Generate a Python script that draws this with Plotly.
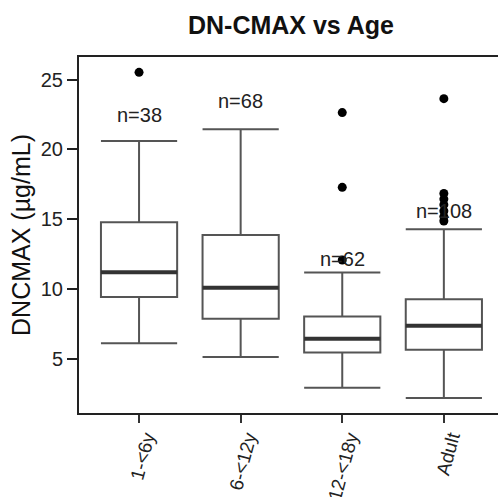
import plotly.graph_objects as go

categories = ["1-<6y", "6-<12y", "12-<18y", "Adult"]
positions = [1, 2, 3, 4]
lower_whisker = [6.14, 5.14, 2.95, 2.21]
q1 = [9.45, 7.88, 5.47, 5.66]
median = [11.21, 10.11, 6.45, 7.38]
q3 = [14.79, 13.88, 8.04, 9.29]
upper_whisker = [20.61, 21.45, 11.19, 14.29]

outlier_x = [1, 3, 3, 3, 4, 4, 4, 4, 4, 4, 4]
outlier_y = [25.52, 22.64, 17.29, 12.09, 23.64, 16.85, 16.45, 16.05, 15.6, 15.2, 14.88]

n_labels = ["n=38", "n=68", "n=62", "n=108"]
n_label_y = [22.5, 23.5, 12.14, 15.6]

box_width = 0.75

fig = go.Figure()
fig.add_trace(go.Box(
    x=positions, q1=q1, median=median, q3=q3,
    lowerfence=lower_whisker, upperfence=upper_whisker,
    width=box_width, whiskerwidth=1,
    fillcolor="white", line=dict(color="#555555", width=2),
    boxpoints=False, showlegend=False, hoverinfo="skip",
))

mx, my = [], []
for p, m in zip(positions, median):
    mx += [p - box_width / 2, p + box_width / 2, None]
    my += [m, m, None]
fig.add_trace(go.Scatter(x=mx, y=my, mode="lines",
                         line=dict(color="#333333", width=4),
                         showlegend=False, hoverinfo="skip"))

fig.add_trace(go.Scatter(x=outlier_x, y=outlier_y, mode="markers",
                         marker=dict(color="black", size=9),
                         showlegend=False, hoverinfo="skip"))

for p, t, y in zip(positions, n_labels, n_label_y):
    fig.add_annotation(x=p, y=y, text=t, showarrow=False,
                       font=dict(size=20, color="#222222", family="Liberation Sans, Arial"),
                       xanchor="center", yanchor="middle")

fig.update_layout(
    width=498, height=497,
    margin=dict(l=79, r=0, t=57, b=84),
    plot_bgcolor="white", paper_bgcolor="white",
    font=dict(family="Liberation Sans, Arial", color="#222222"),
    title=dict(text="<b>DN-CMAX vs Age</b>", x=291 / 498, xref="container",
               xanchor="center", y=1 - 25 / 497, yref="container", yanchor="middle",
               font=dict(size=25, color="#111111", family="Liberation Sans, Arial")),
    xaxis=dict(range=[0.409, 4.533], tickvals=positions, ticktext=categories,
               tickangle=-75, ticklabelshift=7, ticklabelstandoff=-4,
               ticks="outside", ticklen=8, tickwidth=2, tickcolor="#333333",
               showline=True, linecolor="#222222", linewidth=2, mirror=True, automargin=False,
               showgrid=False, zeroline=False, tickfont=dict(size=19, color="#222222")),
    yaxis=dict(range=[1.14, 26.62], tickvals=[5, 10, 15, 20, 25], automargin=False,
               ticks="outside", ticklen=10, tickwidth=2, tickcolor="#222222",
               showline=True, linecolor="#222222", linewidth=2, mirror=False,
               showgrid=False, zeroline=False, tickfont=dict(size=20, color="#222222"),
               title=dict(text="DNCMAX (µg/mL)", font=dict(size=25, color="#111111"), standoff=3)),
)

fig.write_html("out.html")
